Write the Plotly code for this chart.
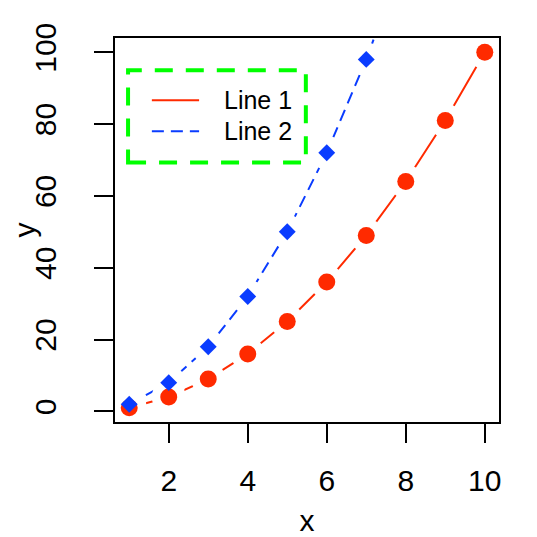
import plotly.graph_objects as go

# данные
x_vals = [1, 2, 3, 4, 5, 6, 7, 8, 9, 10]
line1_y = [1, 4, 9, 16, 25, 36, 49, 64, 81, 100]
line2_y = [2, 8, 18, 32, 50, 72, 98, 128, 162, 200]
series_names = ["Line 1", "Line 2"]
x_ticks = [2, 4, 6, 8, 10]
y_ticks = [0, 20, 40, 60, 80, 100]

red = "#ff2a00"
blue = "#0a3cff"
green = "#00ff00"
font_name = "Liberation Sans, Arial, sans-serif"

fig = go.Figure()

# линии (type="b" в R)
fig.add_trace(go.Scatter(x=x_vals, y=line1_y, mode="lines",
                         line=dict(color=red, width=2), showlegend=False))
fig.add_trace(go.Scatter(x=x_vals, y=line2_y, mode="lines",
                         line=dict(color=blue, width=2, dash="12px,7px"), showlegend=False))

# белые "разрывы" вокруг точек
for ys in (line1_y, line2_y):
    fig.add_trace(go.Scatter(x=x_vals, y=ys, mode="markers",
                             marker=dict(color="white", size=34, line=dict(width=0)),
                             showlegend=False, hoverinfo="skip"))

# точки
fig.add_trace(go.Scatter(x=x_vals, y=line1_y, mode="markers", name=series_names[0],
                         marker=dict(color=red, size=17, symbol="circle", line=dict(width=0)),
                         showlegend=False))
fig.add_trace(go.Scatter(x=x_vals, y=line2_y, mode="markers", name=series_names[1],
                         marker=dict(color=blue, size=13, symbol="diamond", line=dict(width=0)),
                         showlegend=False))

# легенда вручную: пунктирная зелёная рамка
fig.add_shape(type="rect", xref="paper", yref="paper",
              x0=0.034, x1=0.497, y0=0.676, y1=0.916,
              line=dict(color=green, width=4, dash="18px,13px"))
legend_y = [0.838, 0.757]
legend_styles = [dict(color=red, width=2), dict(color=blue, width=2, dash="12px,7px")]
for name, ly, st in zip(series_names, legend_y, legend_styles):
    fig.add_shape(type="line", xref="paper", yref="paper",
                  x0=0.096, x1=0.219, y0=ly, y1=ly, line=st)
    fig.add_annotation(text=name, xref="paper", yref="paper", x=0.279, y=ly,
                       xanchor="left", yanchor="middle", showarrow=False,
                       font=dict(size=25, color="black", family=font_name))

axis_common = dict(showgrid=False, zeroline=False, showline=True, linecolor="black",
                   linewidth=2, mirror=True, ticks="outside", ticklen=19, tickwidth=2,
                   tickcolor="black", automargin=False,
                   tickfont=dict(size=30, color="black", family=font_name))

fig.update_xaxes(range=[0.64, 10.36], tickvals=x_ticks, ticklabelstandoff=12,
                 title=dict(text="x", standoff=14, font=dict(size=30, color="black", family=font_name)),
                 **axis_common)
fig.update_yaxes(range=[-2.96, 103.96], tickvals=y_ticks, tickangle=-90, ticklabelstandoff=26,
                 title=dict(text="y", standoff=7, font=dict(size=30, color="black", family=font_name)),
                 **axis_common)

# страница html имеет отступ 8px, поэтому поля сдвинуты
fig.update_layout(width=537, height=537, margin=dict(l=107, r=46, t=30, b=123),
                  plot_bgcolor="white", paper_bgcolor="white", showlegend=False)

fig.write_html("out.html")
